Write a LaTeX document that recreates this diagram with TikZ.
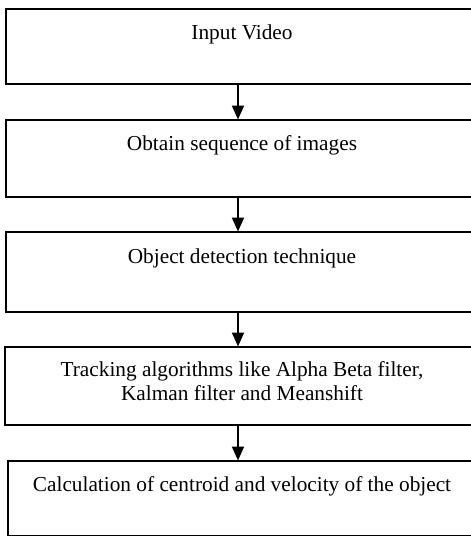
\documentclass[tikz,border=0pt]{standalone}
\usepackage{fontspec}
\setmainfont{Liberation Serif}
\usetikzlibrary{arrows.meta}
\begin{document}
\begin{tikzpicture}[x=1pt,y=1pt,
  stagebox/.style={draw=black, line width=2pt, fill=none},
  label text/.style={anchor=base, inner sep=0pt, font=\fontsize{21.3}{25}\selectfont, align=center},
  flow/.style={line width=2pt, -{Triangle[width=12pt,length=14pt]}, shorten >=-0.5pt}]
\useasboundingbox (0,0) rectangle (471,-536);
\clip (0,0) rectangle (471,-536);

% the five stages (their right sides run past the page edge)
\node[stagebox, minimum width=476pt, minimum height=75pt, anchor=north west, inner sep=0pt] (s1) at (5,-8) {};
\node[stagebox, minimum width=476pt, minimum height=77pt, anchor=north west, inner sep=0pt] (s2) at (5,-119) {};
\node[stagebox, minimum width=476pt, minimum height=80pt, anchor=north west, inner sep=0pt] (s3) at (5,-231) {};
\node[stagebox, minimum width=477pt, minimum height=78pt, anchor=north west, inner sep=0pt] (s4) at (4,-346) {};
\node[stagebox, minimum width=474pt, minimum height=75pt, anchor=north west, inner sep=0pt] (s5) at (7,-460) {};

% stage captions
\node[label text] (t1) at (242,-39.5) {Input Video};
\node[label text] (t2) at (242,-150.5) {Obtain sequence of images};
\node[label text] (t3) at (242,-263.5) {Object detection technique};
\node[label text] (t4a) at (242,-376) {Tracking algorithms like Alpha Beta filter,};
\node[label text] (t4b) at (242,-400) {Kalman filter and Meanshift};
\node[label text] (t5) at (242,-491) {Calculation of centroid and velocity of the object};

% connectors
\coordinate (ax) at (238,0);
\draw[flow] (s1.south -| ax) -- (s2.north -| ax);
\draw[flow] (s2.south -| ax) -- (s3.north -| ax);
\draw[flow] (s3.south -| ax) -- (s4.north -| ax);
\draw[flow] (s4.south -| ax) -- (s5.north -| ax);
\end{tikzpicture}
\end{document}
